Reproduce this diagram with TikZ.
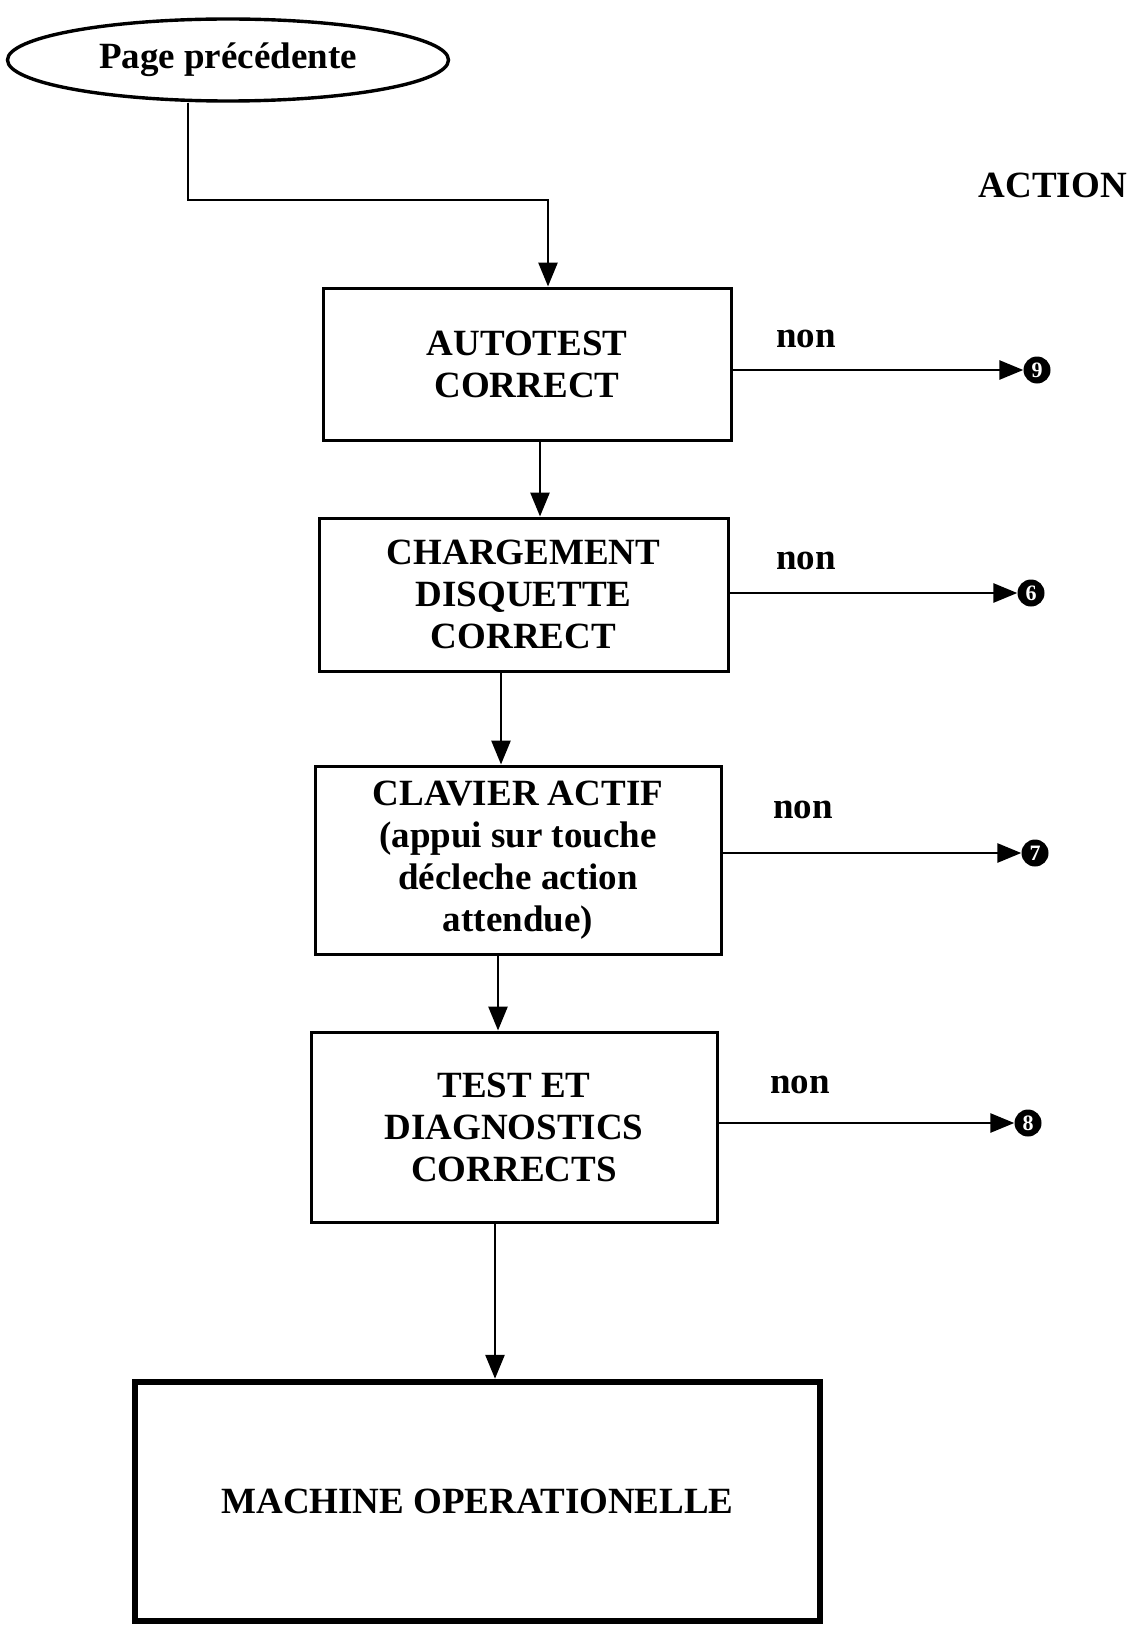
\documentclass[tikz,border=0pt]{standalone}
\usepackage{fontspec}
\setmainfont{Liberation Serif}
\usetikzlibrary{arrows.meta}
\usetikzlibrary{shapes.geometric}

\begin{document}
\begin{tikzpicture}[x=1pt, y=-1pt,
		every node/.style={font=\fontsize{37}{42}\selectfont\bfseries},
		etape/.style={draw, line width=3pt, align=center, inner sep=0pt},
		arr/.style={line width=2.8pt, -{Triangle[length=24pt,width=19pt]}},
		action/.style={circle, fill=black, text=white, inner sep=0pt, minimum size=27pt, font=\fontsize{22}{22}\selectfont\bfseries},
		lbl/.style={inner sep=0pt}]
			\useasboundingbox (0,0) rectangle (1135,1629);
			
			\node[draw, ellipse, line width=3.4pt, minimum width=441pt, minimum height=82pt, inner sep=0pt] (prev) at (228,60) {Page précédente};
			\node[lbl, anchor=east] (act) at (1127,185) {ACTION};
			
			\node[etape, minimum width=408pt, minimum height=152pt] (b1) at (527,364) {AUTOTEST\\CORRECT};
			\node[etape, minimum width=409pt, minimum height=153pt] (b2) at (523.5,594.5) {CHARGEMENT\\DISQUETTE\\CORRECT};
			\node[etape, minimum width=406pt, minimum height=188pt] (b3) at (518,860) {CLAVIER ACTIF\\(appui sur touche\\décleche action\\attendue)};
			\node[etape, minimum width=406pt, minimum height=190pt] (b4) at (514,1127) {TEST ET\\DIAGNOSTICS\\CORRECTS};
			\node[etape, line width=6.5pt, minimum width=685pt, minimum height=239pt] (b5) at (477.5,1501.5) {MACHINE OPERATIONELLE};
			
			\node[action] (c9) at (1037,370) {9};
			\node[action] (c6) at (1031,593) {6};
			\node[action] (c7) at (1035,853) {7};
			\node[action] (c8) at (1028,1123) {8};
			
			\coordinate (bend) at (548,200);
			\draw[arr] ([xshift=-40pt]prev.south) |- (bend) -- (bend |- b1.north);
			\draw[arr] ([xshift=13pt]b1.south) -- ([xshift=13pt]b1.south |- b2.north);
			\draw[arr] ([xshift=-22.5pt]b2.south) -- ([xshift=-22.5pt]b2.south |- b3.north);
			\draw[arr] ([xshift=-20pt]b3.south) -- ([xshift=-20pt]b3.south |- b4.north);
			\draw[arr] ([xshift=-19pt]b4.south) -- ([xshift=-19pt]b4.south |- b5.north);
			
			\draw[arr] (b1.east |- c9) -- (c9.west);
			\draw[arr] (b2.east |- c6) -- (c6.west);
			\draw[arr] (b3.east |- c7) -- (c7.west);
			\draw[arr] (b4.east |- c8) -- (c8.west);
			
			\node[lbl] (n1) at (806,339) {non};
			\node[lbl] (n2) at (806,561) {non};
			\node[lbl] (n3) at (803,810) {non};
			\node[lbl] (n4) at (800,1085) {non};
		\end{tikzpicture}
\end{document}
